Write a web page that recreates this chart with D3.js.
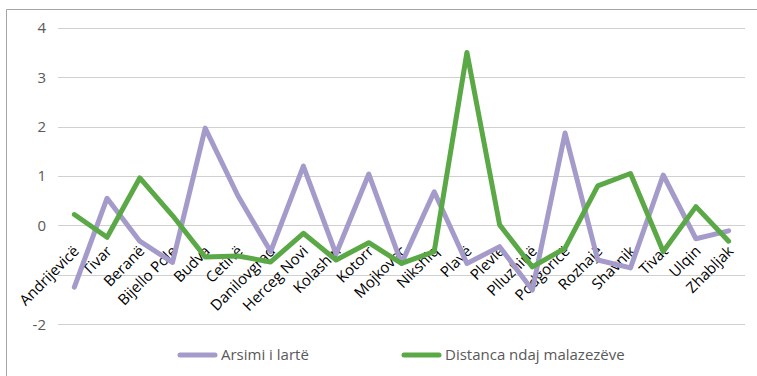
<!DOCTYPE html>
<html>
<head>
<meta charset="utf-8">
<script src="https://cdn.jsdelivr.net/npm/d3@7"></script>
<style>
  body { margin: 0; background: #fff; }
  svg { display: block; font-family: "Open Sans", "Noto Sans", sans-serif; }
</style>
</head>
<body>
<div id="chart"></div>
<script>
// municipalities along the x axis
const municipalities = ["Andrijevicë", "Tivar", "Beranë", "Bijello Pole", "Budva", "Cetinë", "Danilovgrad",
  "Herceg Novi", "Kolashin", "Kotorr", "Mojkovac", "Nikshiq", "Plavë", "Plevlë", "Plluzhinë",
  "Podgoricë", "Rozhajë", "Shavnik", "Tivat", "Ulqin", "Zhabljak"];

const seriesNames = ["Arsimi i lartë", "Distanca ndaj malazezëve"];
const arsimi = [-1.25, 0.55, -0.32, -0.75, 1.97, 0.6, -0.53, 1.2, -0.58, 1.04, -0.77, 0.68, -0.77,
  -0.43, -1.31, 1.87, -0.7, -0.86, 1.02, -0.27, -0.11];
const distanca = [0.22, -0.24, 0.96, 0.2, -0.64, -0.62, -0.74, -0.16, -0.7, -0.35, -0.77, -0.53, 3.5,
  0.01, -0.84, -0.46, 0.8, 1.05, -0.53, 0.38, -0.32];
const yTicks = [-2, -1, 0, 1, 2, 3, 4];
// -1 label is hidden under the category labels in the original
const yTickLabels = ["-2", "", "0", "1", "2", "3", "4"];
const colors = ["#a59bcb", "#5aa846"];

const W = 757, H = 376;
const svg = d3.select("#chart").append("svg")
  .attr("width", W)
  .attr("height", H);

// chart frame (only top + left visible in the crop)
svg.append("path")
  .attr("d", "M6.5,376 V9.5 H757")
  .attr("fill", "none")
  .attr("stroke", "#a6a6a6")
  .attr("stroke-width", 1);

const plot = { left: 58, right: 745, top: 27.8, bottom: 324.2 };

const x = d3.scalePoint()
  .domain(municipalities)
  .range([plot.left, plot.right])
  .padding(0.5);

const y = d3.scaleLinear()
  .domain([-2, 4])
  .range([plot.bottom, plot.top]);

// gridlines
svg.append("g")
  .selectAll("line")
  .data(yTicks)
  .enter().append("line")
  .attr("x1", plot.left)
  .attr("x2", plot.right)
  .attr("y1", d => Math.round(y(d)) + 0.5)
  .attr("y2", d => Math.round(y(d)) + 0.5)
  .attr("stroke", "#d0d0d0")
  .attr("stroke-width", 1.2);

// y axis labels
const yAxis = d3.axisLeft(y).tickValues(yTicks)
  .tickFormat((d, i) => yTickLabels[i])
  .tickSize(0).tickPadding(0);
svg.append("g")
  .attr("transform", "translate(46,0)")
  .call(yAxis)
  .call(g => g.select(".domain").remove())
  .selectAll("text")
  .attr("fill", "#595959")
  .style("font-size", "15px")
  .style("font-family", "Open Sans, Noto Sans, sans-serif");

// category labels, rotated, sitting under the zero line (drawn before lines)
svg.append("g")
  .selectAll("text")
  .data(municipalities)
  .enter().append("text")
  .attr("transform", d => "translate(" + (x(d) + 2) + "," + (y(0) + 23) + ") rotate(-45)")
  .attr("text-anchor", "end")
  .attr("dy", "0.35em")
  .attr("fill", "#000")
  .style("font-size", "15px")
  .text(d => d);

// lines
const line = d3.line()
  .x((d, i) => x(municipalities[i]))
  .y(d => y(d));

[arsimi, distanca].forEach((vals, i) => {
  svg.append("path")
    .datum(vals)
    .attr("fill", "none")
    .attr("stroke", colors[i])
    .attr("stroke-width", 5)
    .attr("stroke-linejoin", "round")
    .attr("stroke-linecap", "round")
    .attr("d", line);
});

// legend
const legend = svg.append("g");
const legendPos = [180, 404];
seriesNames.forEach((name, i) => {
  legend.append("line")
    .attr("x1", legendPos[i])
    .attr("x2", legendPos[i] + 35)
    .attr("y1", 355)
    .attr("y2", 355)
    .attr("stroke", colors[i])
    .attr("stroke-width", 5)
    .attr("stroke-linecap", "round");
  legend.append("text")
    .attr("x", legendPos[i] + 41)
    .attr("y", 355)
    .attr("dy", "0.35em")
    .attr("fill", "#595959")
    .style("font-size", "15px")
    .text(name);
});
</script>
</body>
</html>
